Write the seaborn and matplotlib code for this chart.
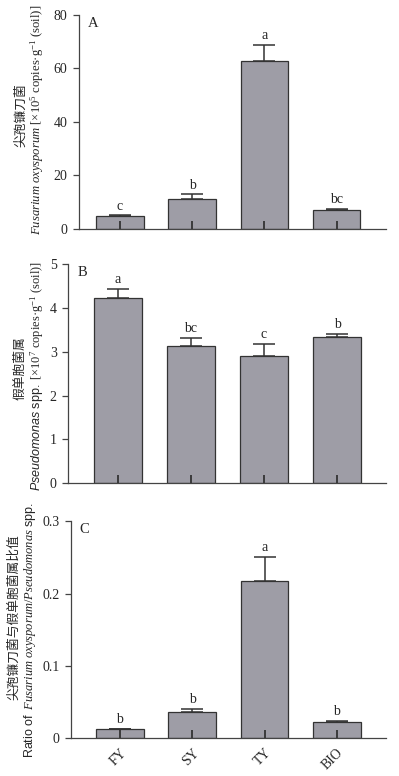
import numpy as np
import pandas as pd
import matplotlib
matplotlib.use('Agg')
import matplotlib.pyplot as plt
import seaborn as sns

# data
groups = ['FY', 'SY', 'TY', 'BIO']

fus_mean = [4.8, 11.1, 62.8, 7.1]
fus_err = [0.3, 1.8, 5.8, 0.5]
fus_letters = ['c', 'b', 'a', 'bc']

pse_mean = [4.22, 3.13, 2.90, 3.33]
pse_err = [0.21, 0.18, 0.28, 0.08]
pse_letters = ['a', 'bc', 'c', 'b']

ratio_mean = [0.012, 0.036, 0.217, 0.0215]
ratio_err = [0.001, 0.004, 0.034, 0.0025]
ratio_letters = ['b', 'b', 'a', 'b']

sns.set_style('ticks')
plt.rcParams['font.family'] = ['Liberation Serif', 'Noto Sans CJK SC']
plt.rcParams['mathtext.fontset'] = 'custom'
plt.rcParams['mathtext.rm'] = 'Liberation Serif'
plt.rcParams['mathtext.it'] = 'Liberation Serif:italic'
plt.rcParams['mathtext.sf'] = 'Liberation Sans:italic'
plt.rcParams['mathtext.bf'] = 'Liberation Sans'

W, H = 399, 776
fig = plt.figure(figsize=(W / 100, H / 100), dpi=100)

BAR = '#9e9da6'
EDGE = '#333333'
AXC = '#444444'


def px_axes(left, right, top, bottom):
    return fig.add_axes([left / W, 1 - bottom / H, (right - left) / W, (bottom - top) / H])


def panel(ax, mean, err, letters, ymax, yticks, ytl, tag, xlim):
    df = pd.DataFrame({'group': groups, 'value': mean})
    sns.barplot(data=df, x='group', y='value', ax=ax, color=BAR, edgecolor=EDGE,
                linewidth=0.9, width=0.66, saturation=1, errorbar=None, zorder=1)
    ax.errorbar(np.arange(len(groups)), mean, yerr=[np.zeros(len(err)), err],
                fmt='none', ecolor=EDGE, elinewidth=1.1, capsize=8, capthick=1.1)
    for i, (m, e, t) in enumerate(zip(mean, err, letters)):
        ax.annotate(t, (i, m + e), xytext=(0, 2), textcoords='offset points',
                    ha='center', va='bottom', fontsize=10)
    ax.set_xticks(np.arange(len(groups)))
    ax.set_xlim(*xlim)
    ax.set_ylim(0, ymax)
    ax.set_yticks(yticks)
    ax.set_yticklabels(ytl, fontsize=10)
    ax.set_xlabel('')
    ax.set_ylabel('')
    sns.despine(ax=ax)
    for s in ['left', 'bottom']:
        ax.spines[s].set_color(AXC)
        ax.spines[s].set_linewidth(0.9)
        ax.spines[s].set_zorder(5)
    ax.tick_params(axis='y', direction='out', length=4.3, width=0.9, color=AXC, pad=4)
    ax.tick_params(axis='x', length=0)
    # inward x tick marks at the category centres, drawn over the bars
    tick_h = 8 / ax.bbox.height
    ax.vlines(np.arange(len(groups)), 0, tick_h, transform=ax.get_xaxis_transform(),
              colors='#2a2a2a', linewidth=1.2, zorder=4)
    ax.text(0.028, 0.99, tag, transform=ax.transAxes, ha='left', va='top', fontsize=10.5)


axA = px_axes(79, 386, 14.7, 229)
panel(axA, fus_mean, fus_err, fus_letters, 80, [0, 20, 40, 60, 80],
      ['0', '20', '40', '60', '80'], 'A', (-0.568, 3.684))
axA.set_xticklabels([])

axB = px_axes(68.3, 386, 264, 483.3)
panel(axB, pse_mean, pse_err, pse_letters, 5, [0, 1, 2, 3, 4, 5],
      ['0', '1', '2', '3', '4', '5'], 'B', (-0.68, 3.67))
axB.set_xticklabels([])

axC = px_axes(71, 386, 521.3, 738)
panel(axC, ratio_mean, ratio_err, ratio_letters, 0.3, [0, 0.1, 0.2, 0.3],
      ['0', '0.1', '0.2', '0.3'], 'C', (-0.676, 3.68))
axC.set_xticklabels(groups, rotation=45, ha='right', rotation_mode='anchor', fontsize=10)
axC.tick_params(axis='x', pad=6)


# y labels (two lines each, placed in pixel positions)
def ylab(x, y, s, size=9.2):
    fig.text(x / W, 1 - y / H, s, rotation=90, ha='center', va='center', fontsize=size)


ylab(21, 115, '尖孢镰刀菌', 9.2)
ylab(37.5, 120, r'$\it{Fusarium\ oxysporum}$ [×10$^{5}$ copies·g$^{-1}$ (soil)]', 9.1)

ylab(20, 368, '假单胞菌属', 9.2)
ylab(37, 376, r'$\mathsf{Pseudomonas}\mathbf{\ spp.}$ [×10$^{7}$ copies·g$^{-1}$ (soil)]', 9.0)

ylab(14, 617, '尖孢镰刀菌与假单胞菌属比值', 9.2)
ylab(30, 630, r'$\mathbf{Ratio\ of}$  $\it{Fusarium\ oxysporum/Pseudomonas}$ $\mathbf{spp.}$', 9.0)

fig.savefig('out.png', dpi=100)
